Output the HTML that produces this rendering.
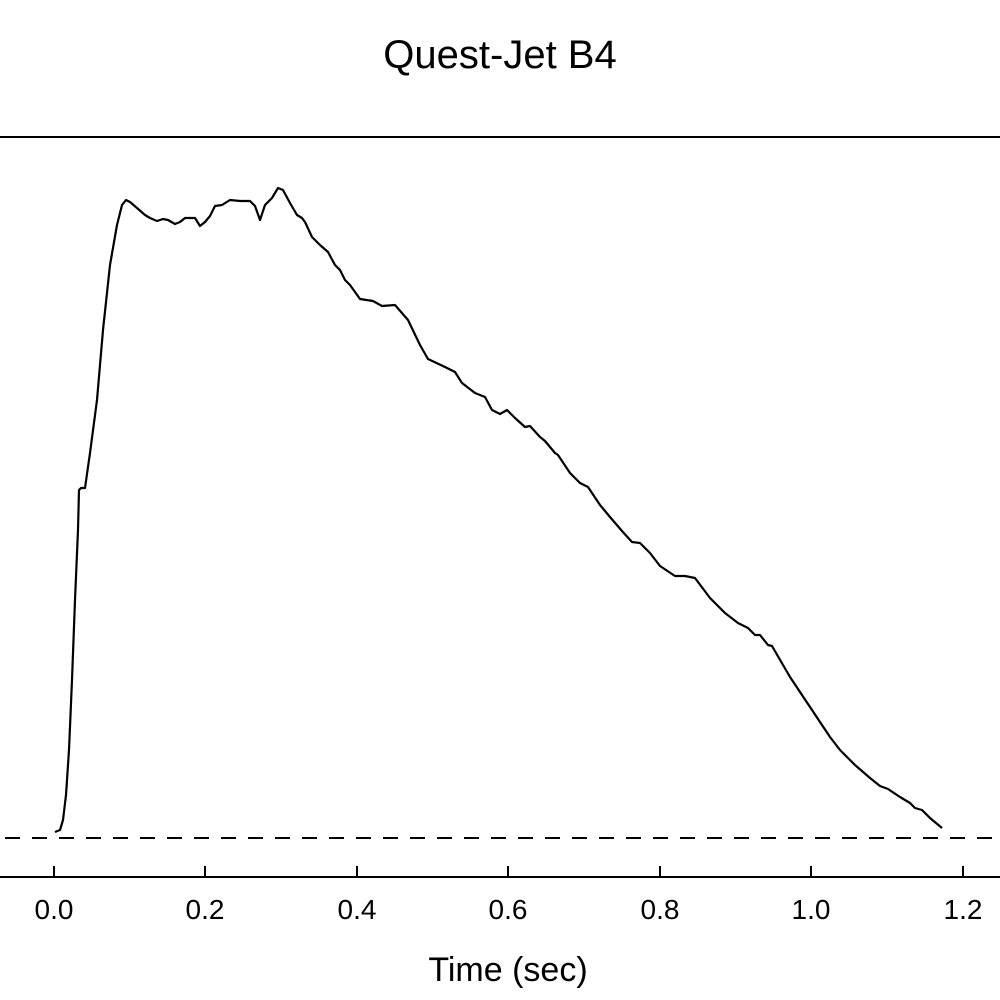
<!DOCTYPE html>
<html><head><meta charset="utf-8"><style>
html,body{margin:0;padding:0;background:#fff;}
svg{display:block;}
</style></head><body>
<svg width="1000" height="1000" viewBox="0 0 1000 1000" xmlns="http://www.w3.org/2000/svg" font-family="Liberation Sans, Arial, sans-serif">
<rect width="1000" height="1000" fill="#fff"/>
<text x="500" y="68" font-size="40" text-anchor="middle" fill="#000">Quest-Jet B4</text>
<line x1="0" y1="137" x2="1000" y2="137" stroke="#000" stroke-width="2"/>
<line x1="0" y1="877" x2="1000" y2="877" stroke="#000" stroke-width="2"/>
<g stroke="#000" stroke-width="2">
<line x1="54" y1="866" x2="54" y2="877"/>
<line x1="205" y1="866" x2="205" y2="877"/>
<line x1="357" y1="866" x2="357" y2="877"/>
<line x1="508" y1="866" x2="508" y2="877"/>
<line x1="660" y1="866" x2="660" y2="877"/>
<line x1="811" y1="866" x2="811" y2="877"/>
<line x1="963" y1="866" x2="963" y2="877"/>
</g>
<g font-size="28" text-anchor="middle" fill="#000">
<text x="54" y="919">0.0</text>
<text x="205" y="919">0.2</text>
<text x="357" y="919">0.4</text>
<text x="508" y="919">0.6</text>
<text x="660" y="919">0.8</text>
<text x="811" y="919">1.0</text>
<text x="963" y="919">1.2</text>
</g>
<text x="508" y="981" font-size="34" text-anchor="middle" fill="#000">Time (sec)</text>
<line x1="5" y1="838" x2="1000" y2="838" stroke="#000" stroke-width="2" stroke-dasharray="15,12"/>
<polyline fill="none" stroke="#000" stroke-width="2.2" stroke-linejoin="round" points="
55,832 60,830 63,820 66,795 69,750 72,680 75,600 78,530 79,490 81,488 85,488 90,453 97,400 103,330 110,265 117,225 122,205 126,200 130,202 137,208 145,215 150,218 157,221 163,219 168,220 175,224 180,222 185,218 190,218 195,218 200,226 205,222 210,216 215,206 222,205 230,200 240,201 250,201 255,206 260,220 265,205 272,198 278,188 283,190 290,203 297,215 302,218 305,222 312,237 320,245 328,252 335,265 340,270 345,280 350,285 360,299 373,301 382,306 395,305 408,320 420,345 428,359 445,367 455,372 462,383 475,393 485,397 492,410 500,414 507,410 515,418 525,427 530,426 540,437 545,441 555,453 558,455 570,473 580,483 588,487 600,505 610,517 622,531 632,542 640,543 650,553 660,566 675,576 685,576 695,578 710,598 725,613 738,623 748,628 755,635 760,635 768,645 772,646 790,677 810,707 830,737 840,750 855,765 870,778 880,786 888,789 900,797 910,803 915,808 922,810 930,818 942,828"/>
</svg>
</body></html>
